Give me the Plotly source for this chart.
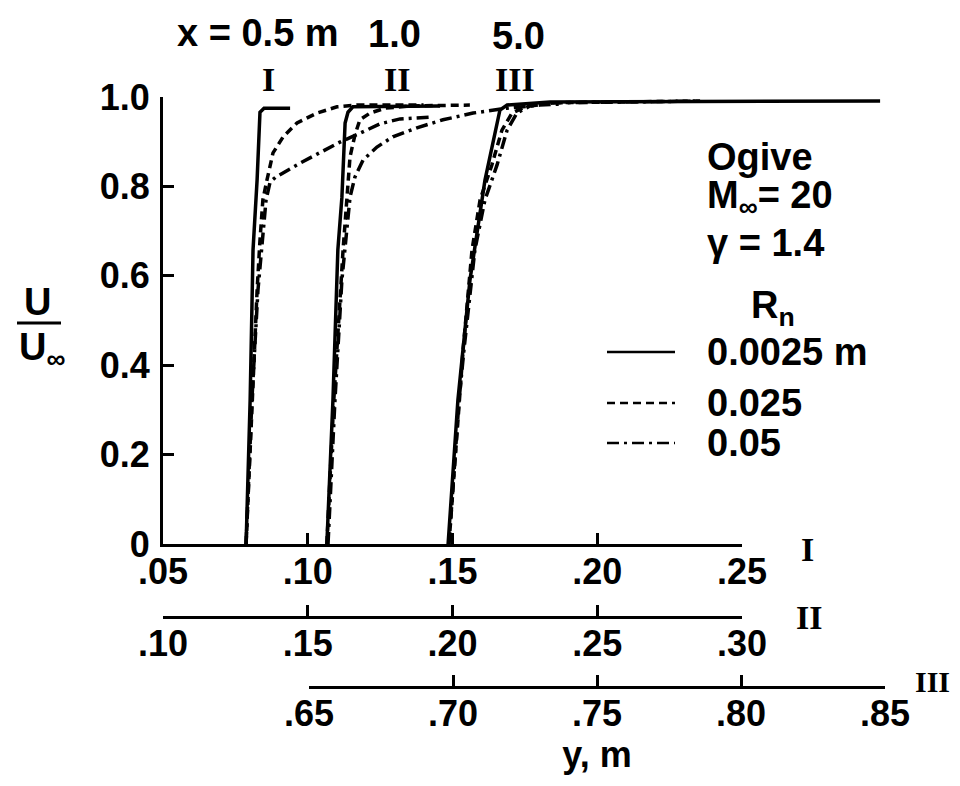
import plotly.graph_objects as go

# velocity profiles U/U_inf vs y, three stations (x = 0.5, 1.0, 5.0 m), three nose radii
# station I  (x = 0.5 m) -> bottom axis I
y1_solid = [0.0787, 0.0801, 0.0811, 0.0825, 0.0835, 0.0849, 0.0939]
u1_solid = [0.0, 0.322, 0.658, 0.814, 0.966, 0.975, 0.975]
y1_dash = [0.0787, 0.0807, 0.0825, 0.0835, 0.0845, 0.0859, 0.0880, 0.0915, 0.0963, 0.1032, 0.1101, 0.1170, 0.1400]
u1_dash = [0.0, 0.322, 0.568, 0.680, 0.770, 0.814, 0.875, 0.911, 0.942, 0.964, 0.978, 0.982, 0.982]
y1_dot = [0.0787, 0.0807, 0.0828, 0.0842, 0.0856, 0.0870, 0.0890, 0.0973, 0.1111, 0.1180, 0.1250, 0.1319, 0.1422]
u1_dot = [0.0, 0.322, 0.568, 0.680, 0.770, 0.810, 0.821, 0.852, 0.899, 0.919, 0.940, 0.951, 0.955]

# station II (x = 1.0 m) -> axis II
y2_solid = [0.1566, 0.1587, 0.1604, 0.1618, 0.1629, 0.1639, 0.1656, 0.1957]
u2_solid = [0.0, 0.322, 0.658, 0.776, 0.942, 0.966, 0.978, 0.980]
y2_dash = [0.1566, 0.1590, 0.1622, 0.1636, 0.1646, 0.1663, 0.1680, 0.1715, 0.1767, 0.1853, 0.2060]
u2_dash = [0.0, 0.322, 0.658, 0.776, 0.866, 0.915, 0.949, 0.964, 0.975, 0.980, 0.982]
y2_dot = [0.1570, 0.1594, 0.1618, 0.1646, 0.1663, 0.1691, 0.1739, 0.1794, 0.1877, 0.1967, 0.2071, 0.2188, 0.2302, 0.2371]
u2_dot = [0.0, 0.322, 0.591, 0.776, 0.821, 0.859, 0.888, 0.911, 0.931, 0.949, 0.964, 0.975, 0.982, 0.984]

# station III (x = 5.0 m) -> axis III
y3_solid = [0.6983, 0.7017, 0.7059, 0.7111, 0.7163, 0.7188, 0.7337, 0.8483]
u3_solid = [0.0, 0.322, 0.591, 0.814, 0.971, 0.982, 0.989, 0.991]
y3_dash = [0.6986, 0.7021, 0.7035, 0.7066, 0.7094, 0.7135, 0.7170, 0.7205, 0.7257, 0.7337, 0.7858]
u3_dash = [0.0, 0.322, 0.434, 0.658, 0.770, 0.848, 0.926, 0.964, 0.980, 0.987, 0.991]
y3_dot = [0.6986, 0.7021, 0.7038, 0.7076, 0.7111, 0.7153, 0.7188, 0.7222, 0.7267, 0.7354, 0.7858]
u3_dot = [0.0, 0.322, 0.434, 0.658, 0.770, 0.848, 0.926, 0.964, 0.980, 0.987, 0.991]

u_ticks = [0, 0.2, 0.4, 0.6, 0.8, 1.0]
u_labels = ['0', '0.2', '0.4', '0.6', '0.8', '1.0']
ax1_ticks = [0.05, 0.10, 0.15, 0.20, 0.25]
ax1_labels = ['.05', '.10', '.15', '.20', '.25']
ax2_ticks = [0.10, 0.15, 0.20, 0.25, 0.30]
ax2_labels = ['.10', '.15', '.20', '.25', '.30']
ax3_ticks = [0.65, 0.70, 0.75, 0.80, 0.85]
ax3_labels = ['.65', '.70', '.75', '.80', '.85']
rn_labels = ['0.0025 m', '0.025', '0.05']

W, H = 960, 786
OFF = 8  # page body margin
L, R, T, B = 163 - OFF, 75 + OFF, 97 - OFF, 99 + OFF


def px(x):
    return (x - OFF - L) / (W - L - R)


def py(y):
    return (H - B - (y - OFF)) / (H - T - B)


SANS = 'Liberation Sans, Arial, sans-serif'
SERIF = 'Liberation Serif, DejaVu Serif, serif'
font = dict(family=SANS, size=36, color='black', weight='bold')
DASHES = ['solid', '8px,5px', '12px,5px,3px,5px']

fig = go.Figure()

groups = [
    ('x', [(y1_solid, u1_solid), (y1_dash, u1_dash), (y1_dot, u1_dot)]),
    ('x2', [(y2_solid, u2_solid), (y2_dash, u2_dash), (y2_dot, u2_dot)]),
    ('x3', [(y3_solid, u3_solid), (y3_dash, u3_dash), (y3_dot, u3_dot)]),
]
for xa, curves in groups:
    for (yy, uu), dash, name in zip(curves, DASHES, rn_labels):
        fig.add_trace(go.Scatter(x=yy, y=uu, xaxis=xa, yaxis='y', mode='lines', name=name,
                                 line=dict(color='black', width=3.5, dash=dash), showlegend=False))

axis_common = dict(showgrid=False, zeroline=False, showline=True, linecolor='black', linewidth=3,
                   ticks='inside', ticklen=11, tickwidth=2.5, tickcolor='black', tickfont=font)
xcommon = dict(ticklabelstandoff=-6, **axis_common)

fig.update_layout(
    width=W, height=H,
    margin=dict(l=L, r=R, t=T, b=B),
    paper_bgcolor='white', plot_bgcolor='rgba(0,0,0,0)',
    showlegend=False,
    xaxis=dict(domain=[0, px(742)], range=[0.05, 0.25], anchor='y',
               tickvals=ax1_ticks, ticktext=ax1_labels, **xcommon),
    xaxis2=dict(domain=[0, px(742)], range=[0.10, 0.30], anchor='free', position=py(617),
                tickvals=ax2_ticks, ticktext=ax2_labels, **xcommon),
    xaxis3=dict(domain=[px(309), 1], range=[0.65, 0.85], anchor='free', position=0,
                tickvals=ax3_ticks, ticktext=ax3_labels,
                title=dict(text='y, m', font=font, standoff=0), **xcommon),
    yaxis=dict(domain=[py(544), 1], range=[0, 1.0], anchor='x',
               tickvals=u_ticks, ticktext=u_labels, ticklabelstandoff=3, **axis_common),
)

ann = []


def text(s, x, y, xanchor='center', f=font):
    ann.append(dict(text=s, x=px(x), y=py(y), xref='paper', yref='paper', showarrow=False,
                    xanchor=xanchor, yanchor='middle', font=f))


roman = dict(family=SERIF, size=34, color='black', weight='bold')
text('x = 0.5 m', 258, 33, f=dict(font, size=38))
text('1.0', 394, 34, f=dict(font, size=38))
text('5.0', 518, 36, f=dict(font, size=38))
text('I', 268, 80, f=roman)
text('II', 397, 80, f=roman)
text('III', 515, 80, f=roman)
text('I', 807, 549, f=roman)
text('II', 809, 617, f=roman)
text('III', 932, 681, f=dict(roman, size=30))

lfont = dict(family=SANS, size=38, color='black', weight='bold')
text('Ogive', 705, 157, 'left', lfont)
text('M<sub>∞</sub>= 20', 705, 198, 'left', lfont)
text('γ = 1.4', 705, 243, 'left', lfont)
text('R<sub>n</sub>', 773, 308, 'center', lfont)
leg_y = [352, 403, 443]
shapes = []
for lbl, yy, dash in zip(rn_labels, leg_y, DASHES):
    text(lbl, 705, yy, 'left', lfont)
    shapes.append(dict(type='line', xref='paper', yref='paper', x0=px(607), x1=px(675),
                       y0=py(yy), y1=py(yy), line=dict(color='black', width=2.5, dash=dash)))

# U / U_inf fraction label
text('U', 38, 302, 'center', lfont)
text('U<sub>∞</sub>', 42, 350, 'center', lfont)
shapes.append(dict(type='line', xref='paper', yref='paper', x0=px(17), x1=px(61),
                   y0=py(323), y1=py(323), line=dict(color='black', width=3)))

fig.update_layout(annotations=ann, shapes=shapes)

fig.write_html('out.html')
